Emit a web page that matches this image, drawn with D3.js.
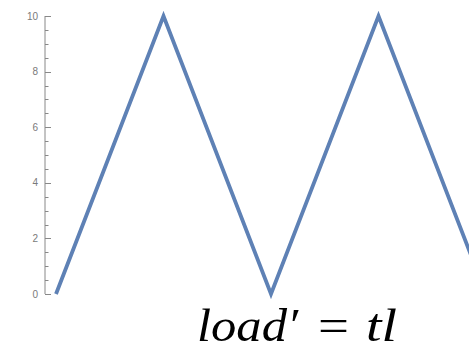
<!DOCTYPE html>
<html><head><meta charset="utf-8">
<script src="https://cdn.jsdelivr.net/npm/d3@7"></script>
<style>body{margin:0;background:#fff}svg{display:block}</style>
</head><body>
<svg id="c" width="469" height="351"></svg>
<script>
const tValues = [0, 10, 20, 30, 40];
const loadValues = [0, 10, 0, 10, 0];
const yTickLabels = [0, 2, 4, 6, 8, 10];
const formulaParts = ["load\u2032", "=", "tl"];

const svg = d3.select("#c");
const x = d3.scaleLinear().domain([0, 20]).range([56, 271]);
const y = d3.scaleLinear().domain([0, 10]).range([294, 16]);

// axis
const axisX = 45;
const g = svg.append("g");
g.append("line").attr("x1", axisX).attr("x2", axisX).attr("y1", y(0)).attr("y2", y(10))
  .attr("stroke", "#888").attr("stroke-width", 1);
const minor = d3.range(0, 10.01, 0.5);
g.selectAll(".mt").data(minor).join("line")
  .attr("x1", axisX).attr("x2", d => axisX + (d % 2 === 0 ? 6 : 3.5))
  .attr("y1", d => Math.round(y(d)) + 0.5).attr("y2", d => Math.round(y(d)) + 0.5)
  .attr("stroke", "#888").attr("stroke-width", 1);
g.selectAll(".tl").data(yTickLabels).join("text")
  .attr("x", axisX - 7).attr("y", d => y(d)).attr("dy", "0.35em")
  .attr("text-anchor", "end").attr("font-family", "Liberation Sans, Arial, sans-serif")
  .attr("font-size", 10).attr("fill", "#7a7a7a").text(d => d);

// line
const pts = tValues.map((t, i) => [t, loadValues[i]]);
svg.append("path").datum(pts)
  .attr("d", d3.line().x(d => x(d[0])).y(d => y(d[1])))
  .attr("fill", "none").attr("stroke", "#5E81B5").attr("stroke-width", 3.8)
  .attr("stroke-linejoin", "miter");

// formula
const fx = [197, 318, 366];
const fw = [101, 31, 31];
svg.selectAll(".f").data(formulaParts).join("text")
  .attr("x", (d, i) => fx[i]).attr("y", 341)
  .attr("font-family", "Liberation Serif, DejaVu Serif, serif")
  .attr("font-style", (d, i) => i === 1 ? "normal" : "italic")
  .attr("font-size", 46).attr("fill", "#000")
  .attr("textLength", (d, i) => fw[i]).attr("lengthAdjust", "spacingAndGlyphs")
  .text(d => d);
</script>
</body></html>
